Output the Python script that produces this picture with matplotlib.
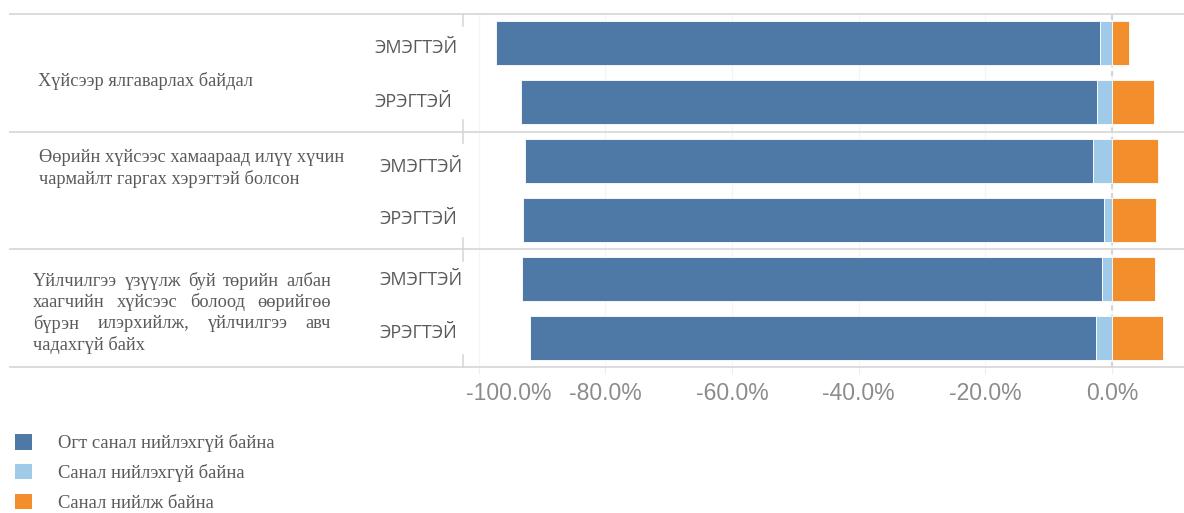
import numpy as np
import matplotlib
matplotlib.use("Agg")
import matplotlib.pyplot as plt
import matplotlib.transforms as mtransforms
from matplotlib.lines import Line2D
from matplotlib.patches import Patch

# Хариултын хувь (%), мөр бүр: бүлэг x хүйс
rows = ["ЭМЭГТЭЙ", "ЭРЭГТЭЙ", "ЭМЭГТЭЙ", "ЭРЭГТЭЙ", "ЭМЭГТЭЙ", "ЭРЭГТЭЙ"]
strongly_disagree = np.array([95.4, 91.1, 89.7, 91.8, 91.6, 89.4])
disagree = np.array([1.9, 2.3, 3.0, 1.2, 1.6, 2.5])
agree = np.array([2.7, 6.6, 7.3, 7.0, 6.8, 8.1])

series_names = ["Огт санал нийлэхгүй байна", "Санал нийлэхгүй байна", "Санал нийлж байна"]
colors = ["#4e79a7", "#a0cbe8", "#f28e2b"]

group_1 = ["Хүйсээр ялгаварлах байдал"]
group_2 = ["Өөрийн хүйсээс хамаараад илүү хүчин",
           "чармайлт гаргах хэрэгтэй болсон"]
group_3 = ["Үйлчилгээ үзүүлж буй төрийн албан",
           "хаагчийн хүйсээс болоод өөрийгөө",
           "бүрэн илэрхийлж, үйлчилгээ авч",
           "чадахгүй байх"]

xticks = [-100, -80, -60, -40, -20, 0]
xticklabels = ["-100.0%", "-80.0%", "-60.0%", "-40.0%", "-20.0%", "0.0%"]

W, H = 1184, 513
SERIF = ["Liberation Serif", "DejaVu Serif"]
SANS = ["Open Sans", "DejaVu Sans"]
NARROW = ["Liberation Sans Narrow", "Liberation Sans", "DejaVu Sans"]
GREY_TXT = "#5a5a5a"


def fx(px):
    return px / W


def fy(py):
    return 1 - py / H


fig = plt.figure(figsize=(W / 100, H / 100), dpi=100)
ax = fig.add_axes([fx(463), fy(367), fx(1184 - 463), (367 - 14) / H])

y = np.arange(len(rows))
bar_kw = dict(height=0.75, edgecolor="white", linewidth=0.6, zorder=2)
ax.barh(y, strongly_disagree, left=-(strongly_disagree + disagree), color=colors[0], **bar_kw)
ax.barh(y, disagree, left=-disagree, color=colors[1], **bar_kw)
ax.barh(y, agree, left=0, color=colors[2], **bar_kw)

ax.set_xlim(-102.5, 11.4)
ax.set_ylim(len(rows) - 0.5, -0.5)
ax.set_yticks([])
for s in ax.spines.values():
    s.set_visible(False)

ax.set_xticks(xticks, xticklabels)
ax.tick_params(axis="x", length=5, color="#eeeeee", pad=6,
               labelsize=16.5, labelcolor="#8c8c8c")
for t in ax.get_xticklabels():
    t.set_fontfamily(NARROW)
# first label sits inside the axis edge
first = ax.get_xticklabels()[0]
first.set_horizontalalignment("left")
first.set_transform(first.get_transform() +
                    mtransforms.ScaledTranslation(-13 / 100, 0, fig.dpi_scale_trans))

ax.xaxis.grid(True, color="#f5f5f5", lw=1, zorder=0)
ax.set_axisbelow(True)
ax.axvline(0, color="#d4d4d4", lw=1.5, ls=(0, (2.5, 2)), zorder=1)

# row dividers running across the whole width
blend = mtransforms.blended_transform_factory(fig.transFigure, ax.transData)
for sep in [-0.5, 1.5, 3.5, 5.5]:
    ax.add_line(Line2D([fx(10), 1], [sep, sep], transform=blend,
                       color="#d9d9d9", lw=1.3, clip_on=False, zorder=1))
    ax.add_line(Line2D([0, 0], [max(sep - 0.2, -0.5), min(sep + 0.2, 5.5)],
                       transform=mtransforms.blended_transform_factory(ax.transAxes, ax.transData),
                       color="#d4d4d4", lw=1.1, clip_on=False))

# sex labels next to the bars
sex_pos = [(374, 48), (374, 102), (379, 167), (379, 219), (379, 280), (379, 333)]
for label, (px, py) in zip(rows, sex_pos):
    fig.text(fx(px), fy(py), label, ha="left", va="center",
             fontsize=13, color=GREY_TXT, family=SANS)

# group labels
text_kw = dict(fontsize=13.2, color=GREY_TXT, family=SERIF, va="center")
fig.text(fx(38), fy(81), group_1[0], ha="left", **text_kw)
for i, line in enumerate(group_2):
    fig.text(fx(39), fy(158 + i * 20.5), line, ha="left", **text_kw)

renderer = fig.canvas.get_renderer()


def justify(line, x0, x1, py, last=False):
    words = line.split()
    if last or len(words) == 1:
        fig.text(fx(x0), fy(py), line, ha="left", **text_kw)
        return
    arts = [fig.text(0, fy(py), w, ha="left", **text_kw) for w in words]
    widths = [a.get_window_extent(renderer).width for a in arts]
    gap = (x1 - x0 - sum(widths)) / (len(words) - 1)
    x = x0
    for a, w in zip(arts, widths):
        a.set_x(fx(x))
        x += w + gap


for i, line in enumerate(group_3):
    justify(line, 33, 331, 281 + i * 21.4, last=(i == len(group_3) - 1))

handles = [Patch(facecolor=c, edgecolor="none") for c in colors]
fig.legend(handles, series_names, loc="upper left",
           bbox_to_anchor=(fx(15), fy(434)), frameon=False,
           prop={"family": SERIF, "size": 13.4}, labelcolor=GREY_TXT,
           handlelength=0.92, handleheight=0.92, handletextpad=1.4,
           labelspacing=0.62, borderaxespad=0, borderpad=0)

fig.savefig("out.png", dpi=100)
